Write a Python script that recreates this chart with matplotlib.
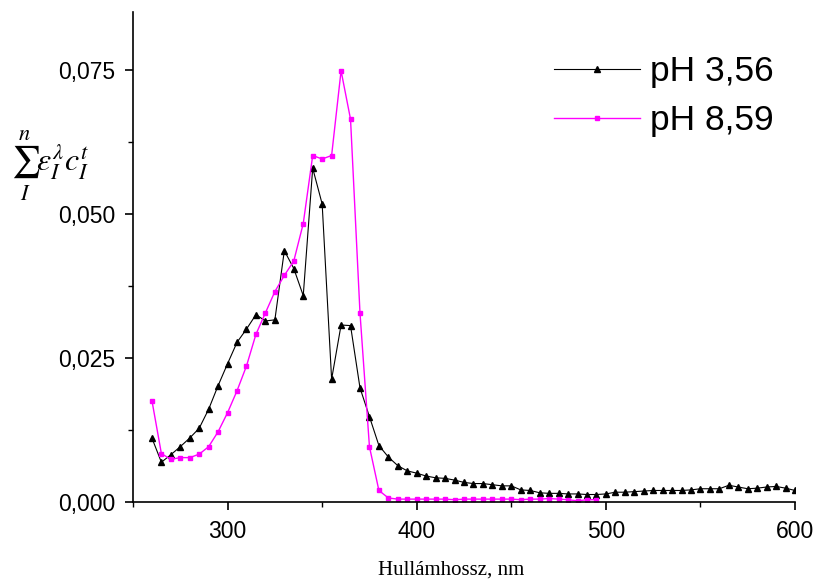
import numpy as np
import matplotlib
matplotlib.use("Agg")
import matplotlib.pyplot as plt
from matplotlib.ticker import MultipleLocator, FuncFormatter

# pH 3,56 (black triangles), 5 nm step
wl_acid = np.arange(260, 601, 5)
abs_acid = [0.0111, 0.0069, 0.0082, 0.0096, 0.0111, 0.0128, 0.0161, 0.0202, 0.0240, 0.0277,
            0.0300, 0.0325, 0.0314, 0.0316, 0.0436, 0.0405, 0.0358, 0.0579, 0.0517, 0.0213,
            0.0307, 0.0306, 0.0198, 0.0148, 0.0098, 0.0078, 0.0063, 0.0054, 0.0050, 0.0045,
            0.0042, 0.0041, 0.0038, 0.0034, 0.0032, 0.0032, 0.0030, 0.0028, 0.0028, 0.0021,
            0.0020, 0.0016, 0.0015, 0.0015, 0.0014, 0.0014, 0.0013, 0.0013, 0.0014, 0.0017,
            0.0017, 0.0018, 0.0019, 0.0020, 0.0020, 0.0020, 0.0020, 0.0021, 0.0023, 0.0023,
            0.0023, 0.0029, 0.0026, 0.0023, 0.0024, 0.0026, 0.0027, 0.0024, 0.0020]

# pH 8,59 (magenta squares)
wl_base = np.arange(260, 496, 5)
abs_base = [0.0176, 0.0084, 0.0074, 0.0077, 0.0077, 0.0083, 0.0096, 0.0122, 0.0155, 0.0193,
            0.0236, 0.0291, 0.0328, 0.0365, 0.0393, 0.0418, 0.0483, 0.0601, 0.0595, 0.0601,
            0.0748, 0.0664, 0.0328, 0.0096, 0.0020, 0.0007, 0.0005, 0.0005, 0.0005, 0.0005,
            0.0005, 0.0005, 0.0004, 0.0005, 0.0005, 0.0005, 0.0005, 0.0005, 0.0005, 0.0004,
            0.0005, 0.0005, 0.0006, 0.0005, 0.0004, 0.0002, 0.0004, 0.0004]

plt.rcParams['font.family'] = ['Liberation Sans', 'DejaVu Sans']
plt.rcParams['mathtext.fontset'] = 'stix'

fig = plt.figure(figsize=(8.14, 5.84), dpi=100)
ax = fig.add_axes([0.1634, 0.1404, 0.8133, 0.8391])

ax.plot(wl_acid, abs_acid, color='black', lw=0.8, marker='^', ms=4.5, label='pH 3,56')
ax.plot(wl_base, abs_base, color='#ff00ff', lw=1.0, marker='s', ms=3.3, label='pH 8,59')

ax.set_xlim(250, 600)
ax.set_ylim(0, 0.085)
ax.xaxis.set_major_locator(MultipleLocator(100))
ax.xaxis.set_minor_locator(MultipleLocator(50))
ax.yaxis.set_major_locator(MultipleLocator(0.025))
ax.yaxis.set_minor_locator(MultipleLocator(0.0125))
ax.yaxis.set_major_formatter(FuncFormatter(lambda v, p: f"{v:.3f}".replace('.', ',')))

for s in ['top', 'right']:
    ax.spines[s].set_visible(False)
for s in ['left', 'bottom']:
    ax.spines[s].set_linewidth(1.2)
ax.tick_params(which='major', direction='out', length=6, width=1.2, labelsize=16.5, pad=7)
ax.tick_params(which='minor', direction='out', length=3.5, width=1.0)

fig.text(451 / 814, 1 - 570 / 584, 'Hullámhossz, nm', family='Liberation Serif', fontsize=15,
         ha='center', va='center')
fig.text(0.014, 0.716, r'$\sum_{I}^{n}\varepsilon_{I}^{\lambda}c_{I}^{t}$', fontsize=23,
         ha='left', va='center')

ax.legend(loc='upper left', bbox_to_anchor=(554 / 814, 1 - 55 / 584),
          bbox_transform=fig.transFigure, frameon=False, fontsize=25.5,
          handlelength=2.43, handletextpad=0.28, labelspacing=0.46,
          borderpad=0, borderaxespad=0)

fig.savefig('out.png', dpi=100)
